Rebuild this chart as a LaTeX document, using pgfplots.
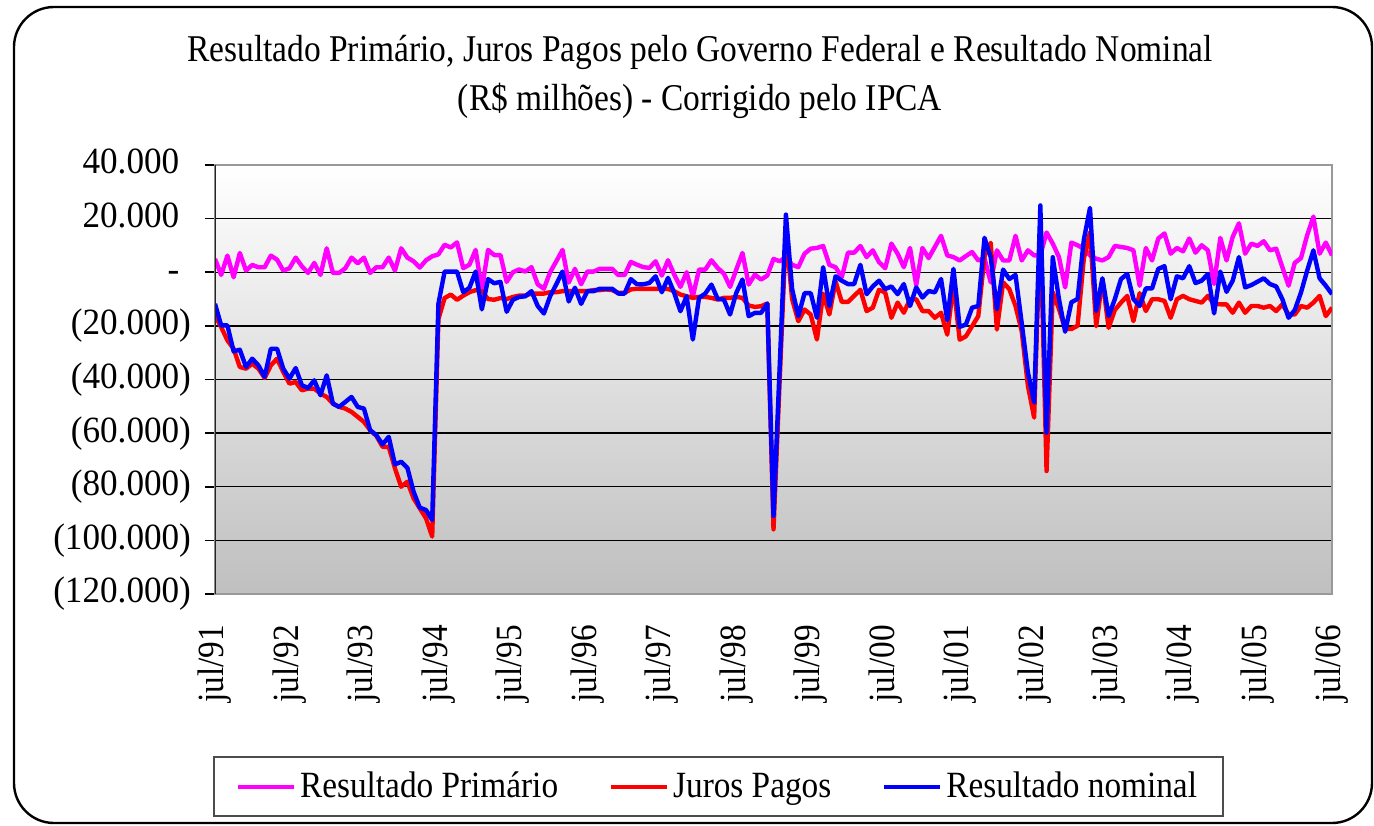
\documentclass[border=0pt]{standalone}
\usepackage{fontspec}
\setmainfont{Liberation Serif}
\usepackage{graphicx}
\usepackage{pgfplots}
\usepackage{pgfplotstable}
\pgfplotsset{compat=1.18}

\newcommand{\sq}[1]{\scalebox{0.9}[1]{#1}}
\newcommand{\sy}[1]{\scalebox{0.95}[1]{#1}}
\newcommand{\fs}{\fontsize{18.5}{22}\selectfont}

% i = meses desde jul/91; M = primario, R = juros, B = nominal (R$ milhoes)
\pgfplotstableread{
i M R B
0 4960 -16120 -11780
1 -990 -20460 -19840
2 6200 -25420 -19840
3 -1860 -28520 -29510
4 7190 -35340 -28890
5 620 -35960 -35340
6 2730 -34100 -32240
7 1860 -35960 -34720
8 1860 -39430 -39060
9 6200 -34720 -28520
10 4710 -32240 -28520
11 620 -37200 -35960
12 1490 -41540 -39680
13 5460 -40920 -35710
14 2230 -44020 -42160
15 -250 -43400 -43150
16 3470 -43400 -40300
17 -990 -45260 -45880
18 8930 -46500 -38440
19 -250 -48980 -48980
20 -250 -50220 -50220
21 1490 -50840 -48360
22 5460 -52080 -46500
23 3350 -53940 -50220
24 5460 -55800 -50840
25 -250 -58900 -58900
26 1860 -61010 -60760
27 1860 -65100 -64230
28 5460 -65100 -61380
29 620 -73160 -71670
30 8930 -79980 -70680
31 5460 -78120 -72910
32 4090 -84320 -81840
33 1740 -88040 -87790
34 4460 -91760 -88660
35 5950 -98580 -92380
36 6670 -17500 -11780
37 10260 -9620 260
38 9230 -8330 260
39 11150 -10260 260
40 1540 -8720 -7440
41 2820 -7440 -5770
42 8330 -6670 260
43 -6500 -7050 -13850
44 8330 -10000 -2560
45 6410 -10260 -4100
46 6410 -9620 -3590
47 -3590 -10000 -14740
48 0 -9230 -10260
49 1030 -8720 -9230
50 260 -8720 -8970
51 1920 -7950 -7050
52 -4490 -7950 -12560
53 -6150 -7950 -15380
54 0 -7440 -8970
55 4100 -7440 -4490
56 8330 -7050 260
57 -3850 -7050 -10900
58 1280 -7050 -5770
59 -4490 -7050 -11790
60 260 -7050 -7050
61 260 -6670 -7050
62 1280 -6670 -6150
63 1280 -6410 -6150
64 1280 -6670 -6150
65 -1030 -7690 -7950
66 -1030 -7690 -7950
67 3850 -6410 -2560
68 2820 -6150 -4490
69 1920 -6210 -4500
70 1610 -6210 -4000
71 4100 -6210 -1500
72 -1240 -6210 -7450
73 4470 -6210 -2110
74 -870 -7080 -7700
75 -5460 -8320 -14530
76 0 -8940 -8940
77 -9000 -9560 -25100
78 990 -9190 -9560
79 990 -9190 -7950
80 4470 -9560 -4600
81 1610 -10180 -9940
82 -500 -9560 -10180
83 -5460 -9560 -15770
84 990 -9190 -7700
85 7200 -9560 -2730
86 -4600 -12420 -16390
87 -870 -12920 -15150
88 -2730 -12670 -15150
89 -1240 -11670 -11670
90 4970 -95880 -90910
91 4100 -40000 -35000
92 5710 15000 21490
93 2800 -10000 -6290
94 1890 -18260 -16390
95 6920 -13900 -7800
96 8810 -15770 -7800
97 9060 -25090 -16980
98 9810 -8000 1890
99 2770 -15730 -12580
100 1890 -3400 -1510
101 -1890 -11070 -3150
102 7300 -11070 -4400
103 7300 -8810 -4400
104 9810 -6540 2770
105 5660 -14470 -8180
106 8180 -13210 -5280
107 3770 -6540 -3150
108 1510 -7550 -6290
109 10690 -16980 -5280
110 6920 -11320 -8180
111 1890 -15100 -4400
112 9060 -10060 -12580
113 -4780 -10060 -5660
114 9060 -14470 -9440
115 5280 -14470 -7000
116 9440 -16980 -7500
117 13590 -15100 -2500
118 6290 -23270 -17860
119 5660 -4400 1260
120 4400 -25160 -20380
121 6040 -23900 -19500
122 7550 -20130 -13210
123 4400 -16350 -12580
124 5280 6000 12830
125 -3770 11000 5660
126 8180 -21380 -13840
127 4400 -3770 1010
128 4400 -6290 -2520
129 13590 -12580 -1010
130 4400 -22000 -19000
131 8180 -42400 -37380
132 6290 -54200 -48590
133 6290 18000 24920
134 14840 -74140 -59810
135 10690 -7480 5610
136 5660 -13700 -9970
137 -5660 -21180 -22180
138 11070 -21180 -11210
139 10060 -19940 -9970
140 8810 5000 12000
141 6290 14950 24000
142 5030 -20130 -14470
143 4400 -2520 -2260
144 5660 -20760 -16350
145 9810 -14090 -10060
146 9430 -11320 -2520
147 9060 -8810 -630
148 8180 -18240 -10000
149 -5030 -7800 -12580
150 9060 -14470 -6040
151 4400 -10060 -6040
152 12580 -10060 1260
153 14470 -10690 2260
154 6920 -16980 -10060
155 9060 -10060 -1510
156 7800 -8810 -2260
157 12580 -10060 2260
158 7300 -10690 -4030
159 10060 -11320 -3140
160 8180 -8810 -630
161 -4400 -11950 -15350
162 12830 -11950 250
163 4400 -12000 -7300
164 13210 -15100 -3140
165 18240 -11320 5660
166 6920 -15100 -5660
167 10690 -12580 -4780
168 9810 -12580 -3520
169 11570 -13210 -2260
170 8180 -12580 -4400
171 8810 -14470 -5280
172 1890 -11950 -10060
173 -5030 -15730 -16980
174 3520 -15730 -14090
175 5280 -12580 -7550
176 13840 -13210 630
177 20760 -11320 8180
178 6920 -8810 -2260
179 11070 -16350 -5030
180 6290 -13210 -8180
}\dados

\begin{document}
\begin{tikzpicture}
\begin{axis}[
  at={(0,0)}, anchor=south west,
  width=558.5pt, height=214.5pt, scale only axis,
  xmin=0, xmax=180, ymin=-120000, ymax=40000,
  xtick={0,12,...,180},
  xticklabels={\sq{jul/91},\sq{jul/92},\sq{jul/93},\sq{jul/94},\sq{jul/95},\sq{jul/96},\sq{jul/97},\sq{jul/98},\sq{jul/99},\sq{jul/00},\sq{jul/01},\sq{jul/02},\sq{jul/03},\sq{jul/04},\sq{jul/05},\sq{jul/06}},
  ytick={-120000,-100000,-80000,-60000,-40000,-20000,0,20000,40000},
  yticklabels={{\sy{(120.000)}},{\sy{(100.000)}},{\sy{(80.000)}},{\sy{(60.000)}},{\sy{(40.000)}},{\sy{(20.000)}},{\sy{-\phantom{)}}},{\sy{20.000\phantom{)}}},{\sy{40.000\phantom{)}}}},
  scaled y ticks=false,
  minor ytick={-100000,-80000,-60000,-40000,-20000,0,20000},
  yminorgrids, minor grid style={black, line width=0.7pt}, minor tick length=0pt,
  axis line style={draw=black!40, line width=1pt},
  xtick style={draw=none},
  ytick pos=left, ytick style={black, line width=0.8pt},
  tick align=outside, major tick length=5pt,
  ticklabel style={font=\fs},
  xticklabel style={rotate=90, anchor=east},
  xticklabel shift=7pt,
  yticklabel style={anchor=east},
  yticklabel shift=3.5pt,
  axis background/.style={top color=white, bottom color=black!25},
  legend columns=3,
  legend image code/.code={\draw[#1, line width=2pt] (0pt,0pt) -- (28pt,0pt);},
  legend style={font=\fs, draw=black!70, line width=0.8pt, fill=white,
    at={(axis description cs:0.4508,-0.4487)}, anchor=center,
    inner xsep=11pt, inner ysep=5.5pt,
    nodes={inner xsep=2pt},
    /tikz/every even column/.append style={column sep=23.5pt}},
  every axis plot/.append style={line width=2.2pt, line join=round},
]
\addplot[color={rgb,255:red,255;green,0;blue,255}] table[x=i, y=M] {\dados};
\addlegendentry{\sq{Resultado Primário}}
\addplot[color={rgb,255:red,255;green,0;blue,0}] table[x=i, y=R] {\dados};
\addlegendentry{\sq{Juros Pagos}}
\addplot[color={rgb,255:red,0;green,0;blue,255}] table[x=i, y=B] {\dados};
\addlegendentry{\sq{Resultado nominal}}
\draw[black!85, line width=1.2pt] (rel axis cs:0,0) -- (rel axis cs:0,1);
\end{axis}
\begin{scope}[x=0.5pt, y=-0.5pt, shift={(-107.5pt,297pt)}]
\node[anchor=base, font=\fontsize{18.9}{22}\selectfont, inner sep=0pt] at (700,62)
  {\scalebox{0.885}[1]{Resultado Primário, Juros Pagos pelo Governo Federal e Resultado Nominal}};
\node[anchor=base, font=\fontsize{18.9}{22}\selectfont, inner sep=0pt] at (700,111)
  {\scalebox{0.885}[1]{(R\$ milhões) - Corrigido pelo IPCA}};
\draw[black, line width=1.2pt, rounded corners=20pt] (14,7) rectangle (1372,823);
\pgfresetboundingbox
\useasboundingbox (0,0) rectangle (1374,825);
\end{scope}
\end{tikzpicture}
\end{document}
